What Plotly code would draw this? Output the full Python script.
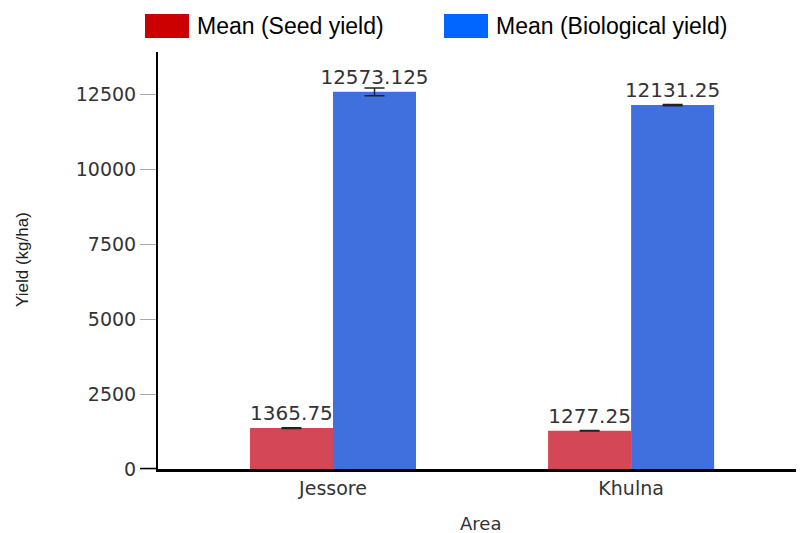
import plotly.graph_objects as go

# data
areas = ['Jessore', 'Khulna']
seed_yield = [1365.75, 1277.25]
bio_yield = [12573.125, 12131.25]
seed_err = [12, 10]
bio_err = [130, 20]
seed_labels = ['1365.75', '1277.25']
bio_labels = ['12573.125', '12131.25']
y_ticks = [0, 2500, 5000, 7500, 10000, 12500]
y_ticktext = ['0', '2500', '5000', '7500', '10000', '12500']

wide = 'DejaVu Sans, Verdana, sans-serif'
text_font = dict(family=wide, size=20, color='#333333')

# page puts the figure 8px in from the top-left, so work in shifted pixels
OFF = 8
L, R, T, B = 158 - OFF, 804 - OFF, 52 - OFF, 469 - OFF
W, H = R - L, B - T

fig = go.Figure()
fig.add_trace(go.Bar(
    x=areas, y=seed_yield, name='Mean (Seed yield)',
    marker=dict(color='#D34757', line=dict(width=0)),
    error_y=dict(type='data', array=seed_err, color='#222222', thickness=1.5, width=10),
    text=seed_labels, textposition='outside', textfont=text_font,
    cliponaxis=False, constraintext='none',
))
fig.add_trace(go.Bar(
    x=areas, y=bio_yield, name='Mean (Biological yield)',
    marker=dict(color='#4070DD', line=dict(width=0)),
    error_y=dict(type='data', array=bio_err, color='#222222', thickness=1.5, width=10),
    text=bio_labels, textposition='outside', textfont=text_font,
    cliponaxis=False, constraintext='none',
))

# legend drawn by hand, big coloured boxes like the original
legend_items = [('Mean (Seed yield)', '#CC0000', 145), ('Mean (Biological yield)', '#0066FF', 444)]
for label, col, px0 in legend_items:
    px0 -= OFF
    fig.add_shape(type='rect', xref='paper', yref='paper',
                  x0=(px0 - L) / W, x1=(px0 + 44 - L) / W,
                  y0=(B - (38 - OFF)) / H, y1=(B - (14 - OFF)) / H,
                  fillcolor=col, line=dict(width=0))
    fig.add_annotation(text=label, xref='paper', yref='paper',
                       x=(px0 + 50 - L) / W, y=(B - (26 - OFF)) / H,
                       xanchor='left', yanchor='middle', showarrow=False,
                       font=dict(family='Liberation Sans, Arial, sans-serif', size=23, color='#000000'))

# axis titles
fig.add_annotation(text='Area', xref='paper', yref='paper', x=(480 - OFF - L) / W, y=(B - (523 - OFF)) / H,
                   xanchor='center', yanchor='middle', showarrow=False,
                   font=dict(family=wide, size=18, color='#333333'))
fig.add_annotation(text='Yield (kg/ha)', xref='paper', yref='paper', x=(22 - OFF - L) / W, y=(B - (260 - OFF)) / H,
                   xanchor='center', yanchor='middle', showarrow=False, textangle=-90,
                   font=dict(family='Liberation Sans Narrow, Arial Narrow, sans-serif', size=17, color='#222222'))

# black zero tick joined to the x axis
fig.add_shape(type='line', xref='paper', yref='y', x0=-18 / W, x1=0, y0=0, y1=0,
              line=dict(color='black', width=2.5))

fig.update_layout(
    width=804, height=533,
    margin=dict(l=L, r=804 - R, t=T, b=533 - B, autoexpand=False),
    plot_bgcolor='white', paper_bgcolor='white',
    barmode='group', bargap=0.443, bargroupgap=0,
    showlegend=False,
    xaxis=dict(range=[-0.587, 1.58], showline=True, linecolor='black', linewidth=2.5,
               ticks='', showgrid=False, zeroline=False, automargin=False,
               tickfont=dict(family=wide, size=19, color='#333333')),
    yaxis=dict(range=[0, 13900], tickvals=y_ticks, ticktext=y_ticktext, showline=True,
               linecolor='black', linewidth=2, ticks='outside', ticklen=16, tickcolor='#aaaaaa',
               showgrid=False, zeroline=False, automargin=False,
               tickfont=dict(family=wide, size=19, color='#333333')),
)

fig.write_html('out.html')
